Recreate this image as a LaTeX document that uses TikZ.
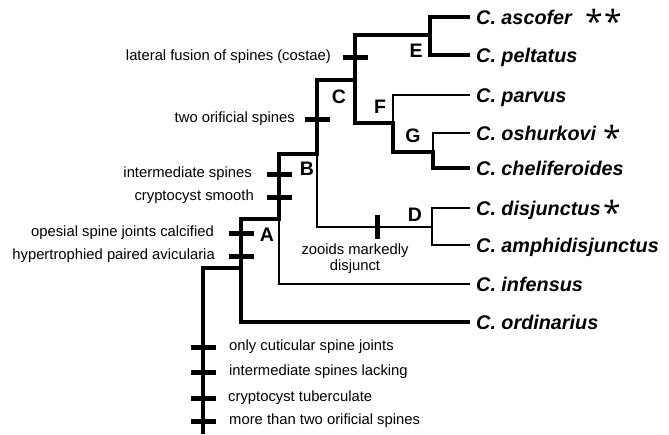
\documentclass[tikz,border=0pt]{standalone}
\usepackage{fontspec}
\setmainfont{Liberation Sans}
\newfontfamily\starfont{Open Sans}
\usetikzlibrary{calc}
\newcommand{\figurescale}{1pt}
\tikzset{
	thickbranch/.style={line width=4.2pt, line join=miter},
	thinbranch/.style={line width=1.6pt},
	traitbar/.style={line width=5pt},
	trait/.style={inner sep=0pt, font=\fontsize{14.8}{16}\selectfont},
	species/.style={anchor=west, inner xsep=6pt, inner ysep=0pt, text height=14pt, text depth=0pt, font=\fontsize{19.8}{22}\selectfont\bfseries\itshape},
	clade/.style={inner sep=0pt, font=\fontsize{19.5}{22}\selectfont\bfseries},
	starmark/.style={anchor=base, inner sep=0pt, font=\starfont\fontsize{32}{32}\selectfont}
}
\newcommand{\maketick}[4]{
	\draw[traitbar] ($(#1)+(-12.5,0)$) -- ($(#1)+(12.5,0)$);
	\node[trait, anchor=#2] (#1text) at ($(#1)+(#3,0)$) {#4};
}

\begin{document}
\begin{tikzpicture}[x=\figurescale,y=-\figurescale]
	\useasboundingbox (0,0) rectangle (669,434);
	\coordinate (root) at (203,434);
	\coordinate (Ajoin) at (241,268);
	\coordinate (Atop) at (241,219);
	\coordinate (Abot) at (241,322);
	\coordinate (Bbase) at (279,219);
	\coordinate (Btop) at (279,154);
	\coordinate (Ibot) at (279,284);
	\coordinate (Cbase) at (317,154);
	\coordinate (Ctop) at (317,80);
	\coordinate (Dstem) at (317,227);
	\coordinate (Dbase) at (432,227);
	\coordinate (Dtop) at (432,208);
	\coordinate (Dbot) at (432,245);
	\coordinate (EFbase) at (355,80);
	\coordinate (EFtop) at (355,35);
	\coordinate (EFbot) at (355,123);
	\coordinate (Ebase) at (430,35);
	\coordinate (Etop) at (430,17);
	\coordinate (Ebot) at (430,55);
	\coordinate (Fbase) at (393,123);
	\coordinate (Ftop) at (393,95);
	\coordinate (Fbot) at (393,152);
	\coordinate (Gbase) at (433,152);
	\coordinate (Gtop) at (433,133);
	\coordinate (Gbot) at (433,168);

	\node[species] (ascofer) at (470,17) {C. ascofer};
	\node[species] (peltatus) at (470,55) {C. peltatus};
	\node[species] (parvus) at (470,95) {C. parvus};
	\node[species] (oshurkovi) at (470,133) {C. oshurkovi};
	\node[species] (cheliferoides) at (470,168) {C. cheliferoides};
	\node[species] (disjunctus) at (470,208) {C. disjunctus};
	\node[species] (amphidisjunctus) at (470,245) {C. amphidisjunctus};
	\node[species] (infensus) at (470,284) {C. infensus};
	\node[species] (ordinarius) at (470,322) {C. ordinarius};

	\node[starmark] (star1) at (594,33) {*};
	\node[starmark] (star2) at (613,33) {*};
	\node[starmark] (star3) at (612,149) {*};
	\node[starmark] (star4) at (612,224) {*};

	\draw[thickbranch] (root) |- (Ajoin);
	\draw[thickbranch] (ordinarius.west) -- (Abot) -- (Atop) -- (Bbase) -- (Btop) -- (Cbase) -- (Ctop) -- (EFbase);
	\draw[thinbranch] (Bbase) -- (Ibot) -- (infensus.west);
	\draw[thinbranch] (Cbase) -- (Dstem) -- (Dbase);
	\draw[thickbranch] (Ebase) -- (EFtop) -- (EFbot) -- (Fbase) -- (Fbot) -- (Gbase) -- (Gbot) -- (cheliferoides.west);
	\draw[thickbranch] (ascofer.west) -- (Etop) -- (Ebot) -- (peltatus.west);
	\draw[thinbranch] (parvus.west) -- (Ftop) -- (Fbase);
	\draw[thinbranch] (oshurkovi.west) -- (Gtop) -- (Gbase);
	\draw[thinbranch] (disjunctus.west) -- (Dtop) -- (Dbot) -- (amphidisjunctus.west);

	\node[clade] (labA) at (267,235) {A};
	\node[clade] (labB) at (307,169) {B};
	\node[clade] (labC) at (339,97) {C};
	\node[clade] (labD) at (415,215) {D};
	\node[clade] (labE) at (416,51) {E};
	\node[clade] (labF) at (380,107) {F};
	\node[clade] (labG) at (413,136) {G};

	\coordinate (costae) at (355,57);
	\coordinate (orificial) at (317,119);
	\coordinate (interm) at (279,174);
	\coordinate (smooth) at (279,197);
	\coordinate (opesial) at (241,233);
	\coordinate (avic) at (241,256);
	\coordinate (cuticular) at (203,347);
	\coordinate (lacking) at (203,372);
	\coordinate (tuberc) at (203,398);
	\coordinate (moretwo) at (203,421);

	\maketick{costae}{east}{-24}{lateral fusion of spines (costae)}
	\maketick{orificial}{east}{-22}{two orificial spines}
	\maketick{interm}{east}{-27}{intermediate spines}
	\maketick{smooth}{east}{-25}{cryptocyst smooth}
	\maketick{opesial}{east}{-27}{opesial spine joints calcified}
	\maketick{avic}{east}{-26}{hypertrophied paired avicularia}
	\maketick{cuticular}{west}{26}{only cuticular spine joints}
	\maketick{lacking}{west}{26}{intermediate spines lacking}
	\maketick{tuberc}{west}{25}{cryptocyst tuberculate}
	\maketick{moretwo}{west}{26}{more than two orificial spines}

	% vertical bar on the D stem
	\coordinate (disj) at (377,227);
	\draw[traitbar] ($(disj)+(0,-12)$) -- ($(disj)+(0,12)$);
	\node[trait, align=center] (disjtext) at (355,259) {zooids markedly\\disjunct};
\end{tikzpicture}
\end{document}
